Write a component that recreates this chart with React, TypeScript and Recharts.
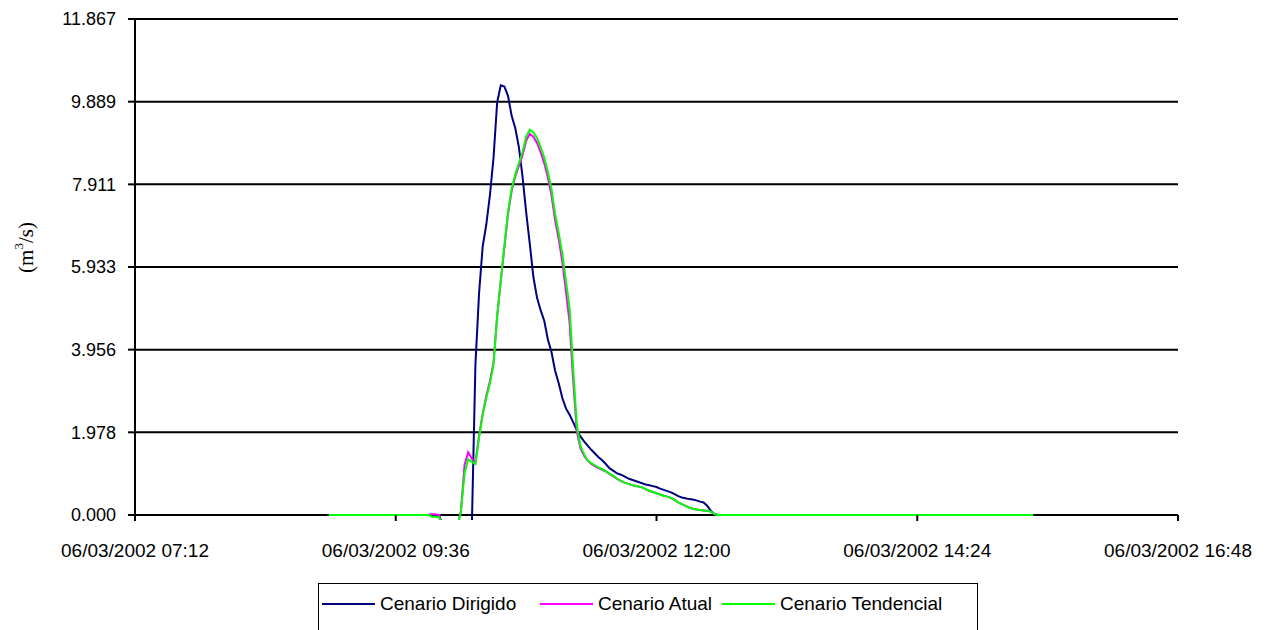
import React from 'react';
import { LineChart, Line, XAxis, YAxis, CartesianGrid, Legend, Label, ReferenceLine } from 'recharts';

// sample times on 06/03/2002 (hh:mm)
const times = [
  '08:59', '09:20', '09:40',
  '09:52', '09:54', '09:56', '09:58', '10:00', '10:02', '10:04', '10:06', '10:08', '10:10',
  '10:12', '10:14', '10:16', '10:18', '10:20', '10:22', '10:24', '10:26', '10:28', '10:30',
  '10:32', '10:34', '10:36', '10:38', '10:40', '10:42', '10:44', '10:46', '10:48', '10:50',
  '10:52', '10:54', '10:56', '10:58', '11:00', '11:02', '11:04', '11:06', '11:08', '11:10',
  '11:12', '11:14', '11:16', '11:18', '11:20', '11:22', '11:24', '11:26', '11:28', '11:30',
  '11:32', '11:34', '11:36', '11:38', '11:40', '11:42', '11:44', '11:46', '11:48', '11:50',
  '11:52', '11:54', '11:56', '11:58', '12:00', '12:02', '12:04', '12:06', '12:08', '12:10',
  '12:12', '12:14', '12:16', '12:18', '12:20', '12:22', '12:24', '12:26', '12:28', '12:30',
  '12:32', '12:34', '12:36', '12:38', '12:40', '12:42', '12:44', '12:46', '12:48', '12:50',
  '12:52',
  '13:20', '14:00', '14:40', '15:20', '15:28',
];

const dirigido = [
  0, 0, 0,
  0, 0, 0, 0, 0, -0.3, -0.6, -0.6, -0.6, -0.6,
  -0.6, -0.6, -0.6, -0.3, 3.6, 5.3, 6.42, 6.95, 7.65, 8.55,
  9.87, 10.28, 10.25, 10.03, 9.55, 9.26, 8.8, 8.1, 7.25, 6.5,
  5.7, 5.2, 4.9, 4.65, 4.2, 3.9, 3.45, 3.15, 2.8, 2.55,
  2.4, 2.22, 2.03, 1.88, 1.76, 1.66, 1.56, 1.47, 1.38, 1.31,
  1.22, 1.12, 1.06, 1.0, 0.97, 0.93, 0.88, 0.85, 0.82, 0.79,
  0.76, 0.73, 0.71, 0.69, 0.67, 0.63, 0.6, 0.57, 0.54, 0.5,
  0.45, 0.42, 0.4, 0.38, 0.37, 0.35, 0.32, 0.3, 0.22, 0.1,
  0.02, 0, 0, 0, 0, 0, 0, 0, 0, 0,
  0,
  0, 0, 0, 0, 0,
];

const atual = [
  0, 0, 0,
  0, 0, 0.02, 0.02, 0, -0.4, -0.6, -0.6, -0.6, -0.3,
  0.1, 1.2, 1.5, 1.35, 1.25, 1.9, 2.42, 2.85, 3.2, 3.65,
  4.75, 5.6, 6.4, 7.2, 7.75, 8.1, 8.35, 8.6, 8.95, 9.12,
  9.05, 8.9, 8.68, 8.42, 8.08, 7.65, 7.05, 6.6, 6.05, 5.35,
  4.6, 3.2, 2.0, 1.6, 1.42, 1.3, 1.22, 1.17, 1.12, 1.08,
  1.04, 0.98, 0.93, 0.87, 0.82, 0.78, 0.75, 0.72, 0.7, 0.68,
  0.66, 0.62, 0.58, 0.55, 0.52, 0.49, 0.46, 0.44, 0.41, 0.36,
  0.3, 0.26, 0.22, 0.18, 0.15, 0.13, 0.12, 0.11, 0.1, 0.08,
  0.02, 0, 0, 0, 0, 0, 0, 0, 0, 0,
  0,
  0, 0, 0, 0, 0,
];

const tendencial = [
  0, 0, 0,
  0, 0, -0.04, -0.04, -0.05, -0.4, -0.6, -0.6, -0.6, -0.3,
  0.08, 1.0, 1.33, 1.27, 1.22, 1.85, 2.39, 2.8, 3.15, 3.6,
  4.75, 5.6, 6.45, 7.25, 7.8, 8.15, 8.42, 8.68, 9.05, 9.22,
  9.16, 9.02, 8.8, 8.55, 8.21, 7.8, 7.2, 6.75, 6.25, 5.6,
  4.95, 3.5, 2.15, 1.65, 1.45, 1.3, 1.24, 1.19, 1.14, 1.1,
  1.05, 0.99, 0.94, 0.88, 0.82, 0.78, 0.75, 0.72, 0.7, 0.68,
  0.66, 0.62, 0.58, 0.55, 0.52, 0.49, 0.46, 0.44, 0.41, 0.36,
  0.3, 0.26, 0.22, 0.18, 0.15, 0.13, 0.12, 0.11, 0.1, 0.08,
  0.02, 0, 0, 0, 0, 0, 0, 0, 0, 0,
  0,
  0, 0, 0, 0, 0,
];

const xTicks = ['07:12', '09:36', '12:00', '14:24', '16:48'];
const yTicks = [0, 1.978, 3.956, 5.933, 7.911, 9.889, 11.867];

const series = [
  { key: 'dirigido', name: 'Cenario Dirigido', color: '#000080' },
  { key: 'atual', name: 'Cenario Atual', color: '#FF00FF' },
  { key: 'tendencial', name: 'Cenario Tendencial', color: '#00FF00' },
];

const toMin = (s: string) => {
  const [h, m] = s.split(':').map(Number);
  return h * 60 + m;
};
const pad = (n: number) => String(n).padStart(2, '0');
const fmtTime = (v: number) => `06/03/2002 ${pad(Math.floor(v / 60))}:${pad(v % 60)}`;

const data = times.map((t, i) => ({
  t: toMin(t),
  dirigido: dirigido[i],
  atual: atual[i],
  tendencial: tendencial[i],
}));

const FONT = '"Liberation Sans", Arial, sans-serif';
const X_TICK_MARGIN = 24;
// plot area runs a few px below zero so the series can dip under the axis line
const Y_MIN = -0.12;
const xMin = toMin(xTicks[0]);
const xMax = toMin(xTicks[xTicks.length - 1]);

const XTick = (props: any) => {
  const { x, y, payload } = props;
  const bottom = y - X_TICK_MARGIN;
  return (
    <g>
      <line x1={x} x2={x} y1={bottom - 5} y2={bottom + 1} stroke="#000" strokeWidth={2} />
      <text x={x} y={y} dy="0.71em" textAnchor="middle" fill="#000" fontSize={19} fontFamily={FONT}>
        {fmtTime(payload.value)}
      </text>
    </g>
  );
};

const YTitle = (props: any) => {
  const vb = props.viewBox || { x: 0, y: 0, width: 0, height: 0 };
  const cx = vb.x + 18;
  const cy = vb.y + vb.height / 2 - 22;
  return (
    <text
      transform={`translate(${cx},${cy}) rotate(-90)`}
      textAnchor="middle"
      dominantBaseline="central"
      fontFamily='"Liberation Serif", "Times New Roman", serif'
      fontSize={21}
      fill="#000"
    >
      (m<tspan dy={-8} fontSize={13}>3</tspan>
      <tspan dy={8}>/s)</tspan>
    </text>
  );
};

const legendLeft = [3, 221, 403];

const LegendBox = () => (
  <div
    style={{
      position: 'relative',
      border: '1.5px solid #000',
      height: 60,
      boxSizing: 'border-box',
      fontFamily: FONT,
      fontSize: 19,
      color: '#000',
      background: '#fff',
    }}
  >
    {series.map((s, i) => (
      <div
        key={s.key}
        style={{ position: 'absolute', left: legendLeft[i], top: 8, display: 'flex', alignItems: 'center', height: 24 }}
      >
        <div style={{ width: 53, height: 2, background: s.color }} />
        <span style={{ marginLeft: 5, whiteSpace: 'nowrap' }}>{s.name}</span>
      </div>
    ))}
  </div>
);

export default function App() {
  return (
    <LineChart
      width={1270}
      height={622}
      data={data}
      margin={{ top: 11, right: 100, bottom: 0, left: 0 }}
    >
      <CartesianGrid vertical={false} syncWithTicks stroke="#000" strokeWidth={2} />
      <ReferenceLine
        segment={[{ x: xMin, y: 0 }, { x: xMin, y: yTicks[yTicks.length - 1] }]}
        stroke="#000"
        strokeWidth={2}
      />
      <XAxis
        dataKey="t"
        type="number"
        domain={[xMin, xMax]}
        ticks={xTicks.map(toMin)}
        height={110}
        axisLine={false}
        tickLine={false}
        tickSize={0}
        tickMargin={X_TICK_MARGIN}
        tick={<XTick />}
      />
      <YAxis
        type="number"
        domain={[Y_MIN, yTicks[yTicks.length - 1]]}
        ticks={yTicks}
        allowDataOverflow
        width={127}
        axisLine={false}
        stroke="#000"
        tickLine={{ stroke: '#000', strokeWidth: 2 }}
        tickSize={7}
        tickMargin={12}
        tickFormatter={(v: number) => v.toFixed(3)}
        tick={{ fill: '#000', fontSize: 18, fontFamily: FONT }}
      >
        <Label content={<YTitle />} />
      </YAxis>
      <Legend
        verticalAlign="middle"
        layout="horizontal"
        wrapperStyle={{ top: 575, left: 310, width: 660 }}
        content={() => <LegendBox />}
      />
      {series.map((s) => (
        <Line
          key={s.key}
          type="linear"
          dataKey={s.key}
          name={s.name}
          stroke={s.color}
          strokeWidth={2}
          dot={false}
          activeDot={false}
          isAnimationActive={false}
        />
      ))}
    </LineChart>
  );
}
